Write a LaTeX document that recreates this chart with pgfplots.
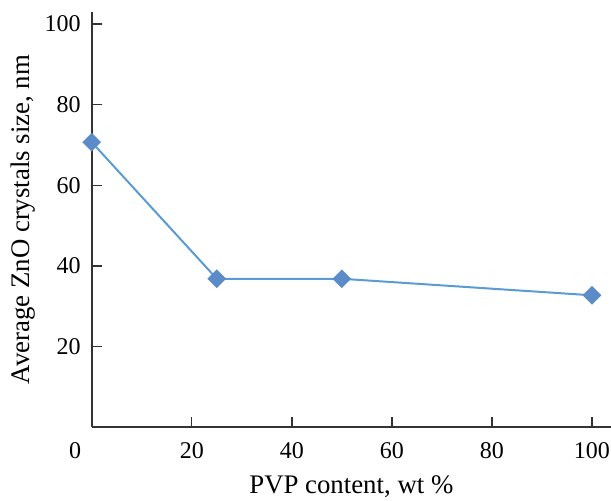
\documentclass[border=0pt]{standalone}
\usepackage{fontspec}
\setmainfont{Liberation Serif}
\usepackage{pgfplots}
\pgfplotsset{compat=1.18}
\definecolor{lineblue}{HTML}{5B9BD5}
\definecolor{markblue}{HTML}{5B8BC8}
\begin{document}
\begin{tikzpicture}
\useasboundingbox (-45.85pt,-36.5pt) rectangle (259.6pt,213.5pt);
\begin{axis}[
  at={(0pt,0pt)}, anchor=origin,
  scale only axis,
  width=259.6pt, height=207.5pt,
  xmin=0, xmax=103.8, ymin=0, ymax=103,
  axis lines*=left,
  axis line style={line width=0.8pt, color=black!80},
  xtick={20,40,60,80,100},
  ytick={20,40,60,80,100},
  extra x ticks={0},
  extra x tick style={major tick length=0pt, xticklabel style={xshift=-8.3pt}},
  tick align=inside,
  major tick length=5pt,
  tick style={line width=0.7pt, color=black!80},
  tick label style={font=\fontsize{12}{14}\selectfont},
  /pgf/number format/assume math mode=true,
  xticklabel style={anchor=north, inner ysep=0pt, yshift=-7.5pt},
  yticklabel style={anchor=east, inner xsep=0pt, xshift=-5.3pt},
  xlabel={PVP content, wt \%},
  ylabel={Average ZnO crystals size, nm},
  label style={font=\fontsize{13.4}{15}\selectfont},
  xlabel style={at={(axis description cs:0.5,-0.159)}, anchor=base},
  ylabel style={at={(axis description cs:-0.1202,0.5)}, anchor=base},
  clip=false,
]
\addplot[color=lineblue, line width=1pt, mark=square*, mark size=2.8pt,
  mark options={rotate=45, fill=markblue, draw=markblue}]
  coordinates {(0,70.7) (25,36.8) (50,36.8) (100,32.7)};
\end{axis}
\end{tikzpicture}
\end{document}
